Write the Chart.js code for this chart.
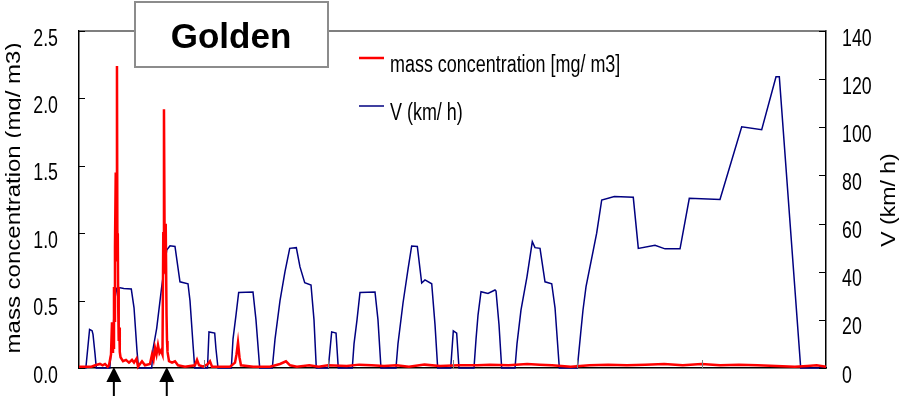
<!DOCTYPE html>
<html>
<head>
<meta charset="utf-8">
<script src="https://cdn.jsdelivr.net/npm/chart.js@4.4.1/dist/chart.umd.min.js"></script>
<style>
  html, body { margin: 0; padding: 0; background: #fff; }
</style>
</head>
<body>
<canvas id="dustChart" width="910" height="396"></canvas>
<script>
// vehicle speed over the NEDC run (time in s, speed in km/h)
const speedTime = [
  0, 11, 17, 21, 22.5, 25.7, 27.8,
  49.5, 53, 54.6, 57.8, 60.6, 62, 72, 84, 88.4, 93.2, 95.6,
  116.8, 119, 124.8, 132.9, 140.9, 146.2, 154.2, 162.2, 175.1, 178.3, 183.1, 185.9,
  206.4, 208.8, 218, 220, 223.3,
  244.7, 247.4, 252.2, 256.5, 279.5, 284.3, 290.3,
  310.5, 314.9, 322.9, 330.9, 338.5, 349.1, 355, 362.6, 372.7, 377.5, 381.2,
  400.5, 405.9, 412.9, 416.5,
  439, 441.8, 446.6, 451.4, 475.5, 480.3, 485.1,
  509.2, 512.4, 520.5, 528.5, 534.4, 543.5, 550.5, 555.8, 566.6, 571.9, 576.2,
  597.1, 601.3, 606.7, 610.4,
  634.5, 637.8, 641, 645.8, 657, 668.3, 669.9, 674.7, 679,
  700.4, 703.6, 710, 719.7, 728.2, 732.5, 740.6, 748.6, 759.4, 764.7, 771.6,
  800.5, 805.9, 809.6, 814.5, 826.2, 831.6, 839.7, 860, 890.4, 898.5, 925.3, 941.4, 965.5,
  980.4, 1029.7, 1064.6, 1096.7, 1119.7, 1125, 1159.4, 1200
];
const speedKmh = [
  0, 0, 16, 15.5, 14, 6, 0,
  0, 12, 15, 29, 33, 33.5, 33, 32.8, 25, 7, 0,
  0, 8, 16.5, 33.8, 49, 50.8, 50.5, 35.8, 35, 28, 10, 0,
  0, 15, 14.5, 8, 0,
  0, 12, 22, 31.4, 31.6, 20, 0,
  0, 12, 28, 40, 49.7, 50, 42, 35.4, 34.5, 20, 0,
  0, 15, 14.5, 0,
  0, 10, 20, 31.4, 31.6, 20, 0,
  0, 10, 27, 41, 50.7, 50.5, 35.3, 36.6, 35, 18, 0,
  0, 15.4, 14.5, 0,
  0, 12, 22, 31.7, 31, 32.4, 32, 18, 0,
  0, 10, 24, 38, 52.5, 50, 49.7, 35.8, 35, 25, 0,
  0, 14.4, 24, 33.8, 49, 56, 69.8, 71.2, 70.9, 49.7, 51, 49.5, 49.5,
  70.5, 70, 100.2, 99, 121, 121, 0, 0
];

// particle mass concentration (time in s, mg/m3)
const concTime = [
  0, 20, 26, 33.7, 38, 41.8, 46, 48.2, 51.4, 53, 54, 54.6, 55.4, 56.2, 57, 57.8, 59, 59.9, 61,
  61.7, 62.3, 63, 63.5, 64.1, 64.7, 65.5, 66.7, 70.7, 75.5, 80.3, 85.1, 88.4, 92.4, 94.8, 98,
  101.2, 106, 114, 117.3, 119.7, 122.1, 124.5, 126.9, 129.3, 131.7, 134.1, 135.4, 136.5, 137.8,
  139.3, 140.6, 141.4, 142.2, 144.6, 149.4, 154.2, 159, 170.3, 186.3, 189.6, 192.8, 200, 207,
  210.4, 213.7, 242.6, 250.6, 253, 255.4, 257.8, 260.2, 280, 306.8, 322.9, 332.5, 339, 350,
  370, 385, 400, 430, 450, 470, 490, 510, 530, 555, 580, 610, 640, 660, 690, 720, 740, 760,
  790, 820, 850, 880, 910, 940, 970, 1000, 1030, 1060, 1090, 1120, 1150, 1170, 1185, 1200
];
const concMg = [
  0.01, 0.01, 0.02, 0.03, 0.02, 0.03, 0.01, 0.02, 0.1, 0.34, 0.12, 0.3, 0.15, 0.6, 0.35, 0.9, 1.45, 1.1, 2.24,
  0.8, 1.0, 0.45, 0.6, 0.2, 0.3, 0.12, 0.08, 0.05, 0.06, 0.04, 0.06, 0.04, 0.07, 0.01, 0.03,
  0.05, 0.02, 0.03, 0.1, 0.06, 0.15, 0.1, 0.17, 0.11, 0.13, 0.1, 1.0, 1.92, 0.7,
  1.07, 0.4, 0.2, 0.12, 0.05, 0.04, 0.05, 0.02, 0.01, 0.02, 0.06, 0.02, 0.01, 0.03,
  0.05, 0.01, 0.01, 0.04, 0.1, 0.19, 0.08, 0.02, 0.01, 0.01, 0.03, 0.05, 0.02, 0.01,
  0.02, 0.01, 0.02, 0.015, 0.025, 0.02, 0.015, 0.02, 0.01, 0.025, 0.015, 0.02, 0.02, 0.025, 0.02, 0.03, 0.025, 0.02,
  0.01, 0.02, 0.025, 0.02, 0.025, 0.03, 0.02, 0.03, 0.02, 0.025, 0.02, 0.015, 0.01, 0.015, 0.02, 0.01
];

const concTicks = [0, 0.5, 1.0, 1.5, 2.0, 2.5];
const concTickLabels = ['0.0', '0.5', '1.0', '1.5', '2.0', '2.5'];
const speedTicks = [0, 20, 40, 60, 80, 100, 120, 140];
const speedTickLabels = ['0', '20', '40', '60', '80', '100', '120', '140'];
const timeMarks = [200, 400, 600, 800, 1000];
const arrowTimes = [56, 141];

const FONT = '"Liberation Sans", Arial, sans-serif';

function seg(ctx, x1, y1, x2, y2) {
  ctx.beginPath();
  ctx.moveTo(x1, y1);
  ctx.lineTo(x2, y2);
  ctx.stroke();
}

// text squeezed horizontally, optionally turned to read bottom-up
function text(ctx, str, x, y, o) {
  ctx.save();
  ctx.translate(x, y);
  ctx.scale(o.sx || 1, 1);
  if (o.rot) ctx.rotate(o.rot);
  ctx.font = o.font;
  ctx.fillStyle = o.color || '#000';
  ctx.textAlign = o.align || 'left';
  ctx.textBaseline = o.baseline || 'alphabetic';
  ctx.fillText(str, 0, 0);
  ctx.restore();
}

const decorations = {
  id: 'decorations',
  afterDraw(chart) {
    const { ctx, chartArea: a, scales } = chart;
    const xs = scales.x, yl = scales.y, yr = scales.y1;
    ctx.save();

    // top frame line
    ctx.strokeStyle = '#555';
    ctx.lineWidth = 1.5;
    seg(ctx, a.left, a.top, a.right, a.top);

    // inward tick marks
    ctx.strokeStyle = '#000';
    ctx.lineWidth = 1;
    yl.ticks.forEach(t => {
      const y = Math.round(yl.getPixelForValue(t.value)) + 0.5;
      seg(ctx, a.left, y, a.left + 6, y);
    });
    yr.ticks.forEach(t => {
      const y = Math.round(yr.getPixelForValue(t.value)) + 0.5;
      seg(ctx, a.right - 7, y, a.right, y);
    });
    ctx.strokeStyle = '#808080';
    timeMarks.forEach(t => {
      const x = Math.round(xs.getPixelForValue(t)) + 0.5;
      seg(ctx, x, a.bottom, x, a.bottom - 8);
    });

    // tick labels
    const tickFont = '24px ' + FONT;
    yl.ticks.forEach((t, i) => {
      text(ctx, concTickLabels[i], a.left - 21, yl.getPixelForValue(t.value) + 8,
        { font: tickFont, sx: 0.74, align: 'right', baseline: 'middle' });
    });
    yr.ticks.forEach((t, i) => {
      text(ctx, speedTickLabels[i], a.right + 16, yr.getPixelForValue(t.value) + 8,
        { font: tickFont, sx: 0.74, align: 'left', baseline: 'middle' });
    });

    // axis titles
    ctx.save();
    ctx.beginPath();
    ctx.rect(0, 0, 21, chart.height);
    ctx.clip();
    text(ctx, 'mass concentration (mg/ m3)', 20, 198,
      { font: '24px ' + FONT, sx: 0.85, rot: -Math.PI / 2, align: 'center' });
    ctx.restore();
    text(ctx, 'V (km/ h)', 895, 200,
      { font: '23px ' + FONT, sx: 0.85, rot: -Math.PI / 2, align: 'center' });

    // legend
    const ds = chart.data.datasets;
    const legendY = [58, 106];
    ds.forEach((d, i) => {
      ctx.strokeStyle = d.borderColor;
      ctx.lineWidth = i === 0 ? 2.5 : 1.5;
      seg(ctx, 359, legendY[i], 384, legendY[i]);
      text(ctx, d.label, 390, legendY[i] + 14, { font: '23px ' + FONT, sx: 0.78 });
    });

    // title box
    ctx.fillStyle = '#fff';
    ctx.fillRect(134, 1, 195, 67);
    ctx.strokeStyle = '#8c8c8c';
    ctx.lineWidth = 2;
    ctx.strokeRect(135, 2, 193, 65);
    text(ctx, 'Golden', 231, 48, { font: 'bold 35px ' + FONT, align: 'center' });

    // arrows under the axis
    ctx.fillStyle = '#000';
    ctx.strokeStyle = '#000';
    arrowTimes.forEach(t => {
      const x = xs.getPixelForValue(t);
      ctx.beginPath();
      ctx.moveTo(x, a.bottom - 1);
      ctx.lineTo(x - 7.5, a.bottom + 14);
      ctx.lineTo(x + 7.5, a.bottom + 14);
      ctx.closePath();
      ctx.fill();
      ctx.lineWidth = 2;
      seg(ctx, x, a.bottom + 13, x, chart.height);
    });

    ctx.restore();
  }
};

const ctx = document.getElementById('dustChart').getContext('2d');

const dustChart = new Chart(ctx, {
  type: 'line',
  data: {
    datasets: [
      {
        label: 'mass concentration [mg/ m3]',
        data: concTime.map((t, i) => ({ x: t, y: concMg[i] })),
        yAxisID: 'y',
        borderColor: '#ff0000',
        borderWidth: 2.5,
        pointRadius: 0,
        tension: 0,
        clip: 3
      },
      {
        label: 'V (km/ h)',
        data: speedTime.map((t, i) => ({ x: t, y: speedKmh[i] })),
        yAxisID: 'y1',
        borderColor: '#000080',
        borderWidth: 1.5,
        pointRadius: 0,
        tension: 0,
        clip: 3
      }
    ]
  },
  options: {
    responsive: false,
    animation: false,
    layout: { padding: { top: 31, left: 0, right: 0, bottom: 0 } },
    plugins: { legend: { display: false }, tooltip: { enabled: false } },
    scales: {
      x: {
        type: 'linear',
        min: 0,
        max: 1200,
        ticks: { display: false },
        grid: { display: false, drawTicks: false },
        border: { color: '#000', width: 1.5 },
        afterFit: s => { s.height = 28; }
      },
      y: {
        position: 'left',
        min: 0,
        max: 2.5,
        afterBuildTicks: s => { s.ticks = concTicks.map(v => ({ value: v })); },
        ticks: { display: false },
        grid: { display: false, drawTicks: false },
        border: { color: '#000', width: 1.5 },
        afterFit: s => { s.width = 79; }
      },
      y1: {
        position: 'right',
        min: 0,
        max: 140,
        afterBuildTicks: s => { s.ticks = speedTicks.map(v => ({ value: v })); },
        ticks: { display: false },
        grid: { display: false, drawTicks: false },
        border: { color: '#000', width: 1.5 },
        afterFit: s => { s.width = 84; }
      }
    }
  },
  plugins: [decorations]
});
</script>
</body>
</html>
